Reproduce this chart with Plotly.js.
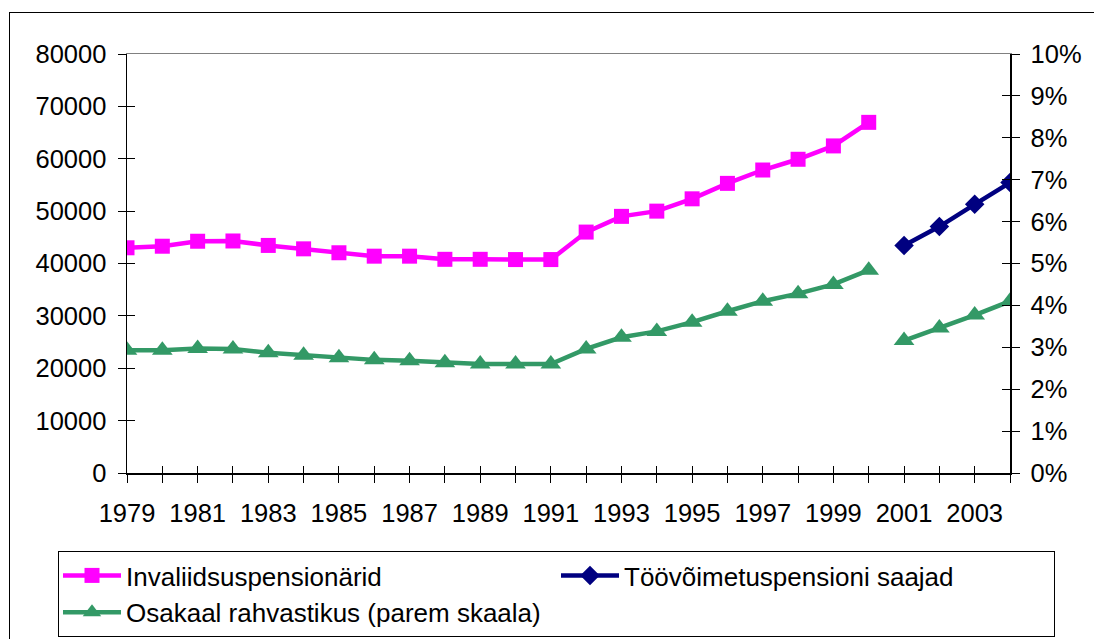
<!DOCTYPE html>
<html>
<head>
<meta charset="utf-8">
<script src="https://cdn.plot.ly/plotly-3.0.1.min.js"></script>
<style>
  html, body { margin: 0; padding: 0; background: #fff; }
  #wrap { position: relative; width: 1094px; height: 639px; overflow: hidden; }
  #chart { position: absolute; left: 0; top: 0; width: 1094px; height: 639px; }
  #frame { position: absolute; left: 9px; top: 12px; width: 2000px; height: 2000px;
           border-left: 1px solid #000; border-top: 1px solid #000; pointer-events: none; }
</style>
</head>
<body>
<div id="wrap">
  <div id="chart"></div>
  <div id="frame"></div>
</div>
<script>
// ---- data ----
const years = [1979,1980,1981,1982,1983,1984,1985,1986,1987,1988,1989,1990,1991,
               1992,1993,1994,1995,1996,1997,1998,1999,2000,2001,2002,2003,2004];
const tickLabels = ['1979','','1981','','1983','','1985','','1987','','1989','','1991',
                    '','1993','','1995','','1997','','1999','','2001','','2003',''];

const yearsA = years.slice(0, 22);   // 1979-2000
const yearsB = years.slice(22);      // 2001-2004

const invaliidsuspensionarid = [43000,43300,44250,44300,43450,42800,42050,41400,41400,40800,40800,40750,40750,
                                46000,49000,50000,52350,55300,57850,59900,62450,66950];
const toovoimetuspensioniSaajad = [43450,47050,51300,55450];
const osakaalA = [0.0293,0.0293,0.0297,0.0296,0.0287,0.0281,0.0275,0.0270,0.0268,0.0263,0.0260,0.0260,0.0260,
                  0.0296,0.0324,0.0338,0.0360,0.0386,0.0410,0.0428,0.0450,0.0484];
const osakaalB = [0.0316,0.0346,0.0377,0.0410];

const names = ['Invaliidsuspensionärid','Töövõimetuspensioni saajad','Osakaal rahvastikus (parem skaala)'];
const leftTicks = [0,10000,20000,30000,40000,50000,60000,70000,80000];
const rightTicks = [0,0.01,0.02,0.03,0.04,0.05,0.06,0.07,0.08,0.09,0.10];

const PINK = '#FF00FF', NAVY = '#000080', GREEN = '#339966';
const FAMILY = '"Liberation Sans", Arial, sans-serif';
const FONT = {family: FAMILY, size: 25.5, color: '#000'};
const LFONT = {family: FAMILY, size: 26, color: '#000'};

const traces = [
  {x: yearsA, y: invaliidsuspensionarid, name: names[0], type: 'scatter', mode: 'lines+markers',
   line: {color: PINK, width: 4.5}, marker: {symbol: 'square', size: 15, color: PINK},
   xaxis: 'x', yaxis: 'y'},
  {x: yearsB, y: toovoimetuspensioniSaajad, name: names[1], type: 'scatter', mode: 'lines+markers',
   line: {color: NAVY, width: 4.5}, marker: {symbol: 'diamond', size: 15, color: NAVY},
   xaxis: 'x', yaxis: 'y'},
  {x: yearsA, y: osakaalA, name: names[2], type: 'scatter', mode: 'lines+markers', legendgroup: 'g',
   line: {color: GREEN, width: 4.5}, marker: {symbol: 'triangle-up', size: 18, color: GREEN},
   xaxis: 'x', yaxis: 'y2'},
  {x: yearsB, y: osakaalB, name: names[2], type: 'scatter', mode: 'lines+markers', legendgroup: 'g', showlegend: false,
   line: {color: GREEN, width: 4.5}, marker: {symbol: 'triangle-up', size: 18, color: GREEN},
   xaxis: 'x', yaxis: 'y2'},
  // empty carriers so the tick-only overlay axes get drawn (no marks)
  {x: [], y: [], xaxis: 'x2', yaxis: 'y', type: 'scatter', showlegend: false},
  {x: [], y: [], xaxis: 'x3', yaxis: 'y', type: 'scatter', showlegend: false},
  {x: [], y: [], xaxis: 'x', yaxis: 'y3', type: 'scatter', showlegend: false},
  {x: [], y: [], xaxis: 'x', yaxis: 'y4', type: 'scatter', showlegend: false}
];

const xr = [years[0], years[years.length - 1]];
const layout = {
  width: 1094, height: 639,
  margin: {l: 127, r: 84, t: 54, b: 166, pad: 0, autoexpand: false},
  paper_bgcolor: '#fff', plot_bgcolor: '#fff',
  font: FONT,
  showlegend: true,
  xaxis: {range: xr, tickvals: years, ticktext: tickLabels, ticks: 'outside', ticklen: 8, tickwidth: 1,
          tickcolor: '#000', showline: true, linecolor: '#000', linewidth: 1.5, showgrid: false,
          zeroline: false, tickfont: FONT, ticklabelstandoff: 9, fixedrange: true, automargin: false},
  xaxis2: {range: xr, overlaying: 'x', anchor: 'y', side: 'bottom', tickvals: years, ticks: 'inside',
           ticklen: 7, tickwidth: 1, tickcolor: '#000', showticklabels: false, showline: false,
           showgrid: false, zeroline: false},
  xaxis3: {range: xr, overlaying: 'x', anchor: 'y', side: 'top', showticklabels: false, ticks: '',
           showline: true, linecolor: '#808080', linewidth: 1, showgrid: false, zeroline: false},
  yaxis: {range: [0, 80000], tickvals: leftTicks, tickformat: 'd', ticks: 'outside', ticklen: 8, tickwidth: 1,
          tickcolor: '#000', showline: true, linecolor: '#000', linewidth: 1.5, showgrid: false, zeroline: false,
          tickfont: FONT, ticklabelstandoff: 6, fixedrange: true, automargin: false},
  yaxis2: {range: [0, 0.10], tickvals: rightTicks, tickformat: '.0%', overlaying: 'y', side: 'right', anchor: 'x',
           ticks: 'outside', ticklen: 8, tickwidth: 1, tickcolor: '#000', showline: true, linecolor: '#000',
           linewidth: 1.5, showgrid: false, zeroline: false, tickfont: FONT, ticklabelstandoff: 6, automargin: false},
  yaxis3: {range: [0, 80000], tickvals: leftTicks, overlaying: 'y', side: 'left', anchor: 'x', ticks: 'inside', ticklen: 8,
           tickwidth: 1, tickcolor: '#000', showticklabels: false, showline: false, showgrid: false, zeroline: false},
  yaxis4: {range: [0, 0.10], tickvals: rightTicks, overlaying: 'y', side: 'right', anchor: 'x', ticks: 'inside', ticklen: 8,
           tickwidth: 1, tickcolor: '#000', showticklabels: false, showline: false, showgrid: false, zeroline: false},
  legend: {orientation: 'h', xref: 'paper', yref: 'paper', x: (58-127)/883, y: (473-551)/419,
           xanchor: 'left', yanchor: 'top', bgcolor: '#fff', bordercolor: '#000', borderwidth: 1,
           font: LFONT, itemwidth: 58, entrywidth: 425, entrywidthmode: 'pixels', tracegroupgap: 0},
  hovermode: false
};

Plotly.newPlot('chart', traces, layout, {staticPlot: true, displayModeBar: false});
</script>
</body>
</html>
